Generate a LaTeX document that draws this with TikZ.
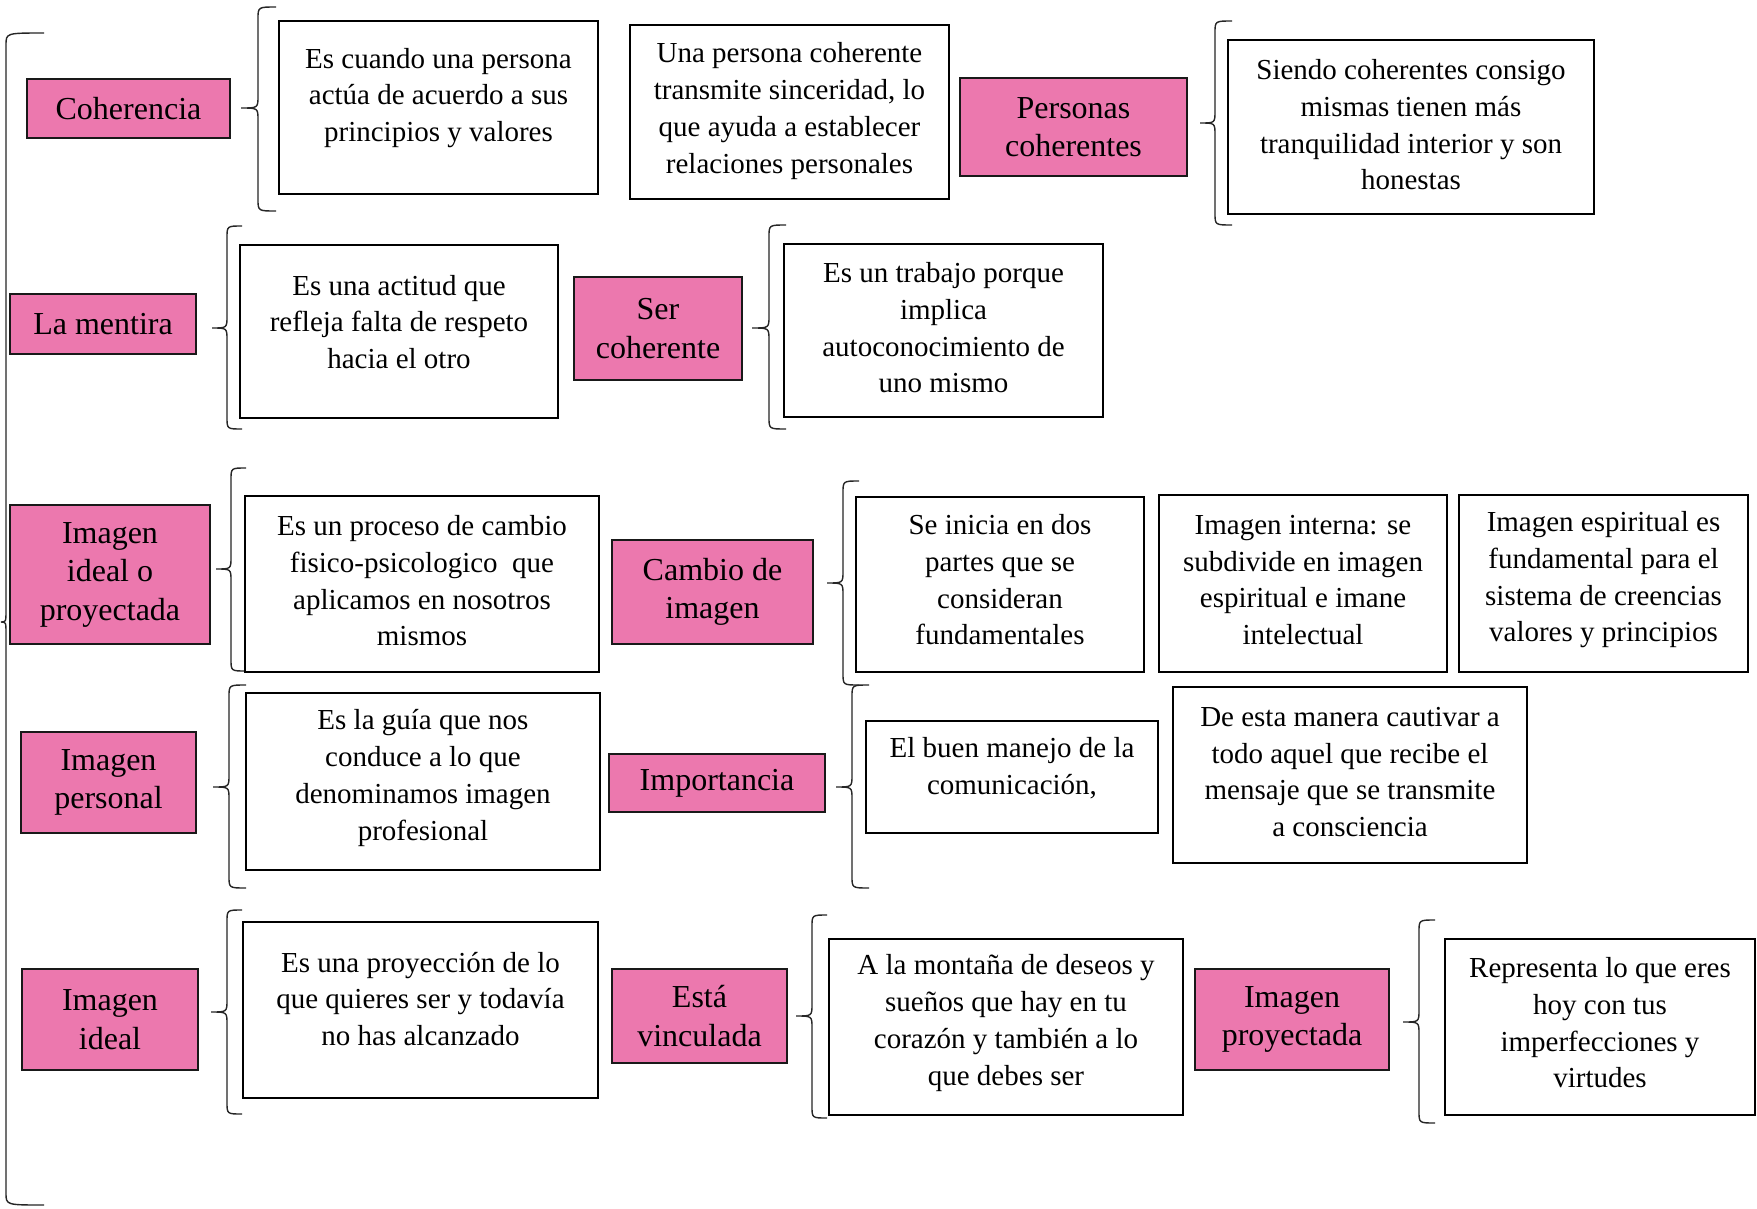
\documentclass[tikz,border=0pt]{standalone}
\usepackage{fontspec}
\setmainfont{Liberation Serif}
\usetikzlibrary{calc}
\definecolor{pinkfill}{RGB}{236,120,174}
\tikzset{
  whitebox/.style={draw=black, line width=2.6pt, fill=white, inner sep=0pt},
  pinkbox/.style={draw=black!90, line width=2.6pt, fill=pinkfill, align=center, inner sep=0pt,
    font=\fontsize{32}{38.5}\selectfont},
  boxtext/.style={align=center, inner sep=0pt, font=\fontsize{29}{36.7}\selectfont},
  bracel/.style={draw=black!85, line width=1.4pt},
}
% white box: name, x1, y1, x2, y2, text offset, text
\newcommand\wbox[7]{%
  \node[whitebox, minimum width={#4-#2}, minimum height={#5-#3}] (#1) at ({(#2+#4)/2},{(#3+#5)/2}) {};
  \node[boxtext] (#1t) at ($(#1.center)+(0,#6)$) {#7};}
% pink box: name, x1, y1, x2, y2, text
\newcommand\pbox[6]{%
  \node[pinkbox, minimum width={#4-#2}, minimum height={#5-#3}] (#1) at ({(#2+#4)/2},{(#3+#5)/2}) {#6};}
% brace: tip x, line x, hook x, top y, mid y, bottom y
\newcommand\brc[6]{%
  \draw[bracel] (#3,#4) .. controls (#2,#4) .. (#2,#4+12) -- (#2,#5-12)
    .. controls (#2,#5) .. (#1,#5) .. controls (#2,#5) .. (#2,#5+12)
    -- (#2,#6-12) .. controls (#2,#6) .. (#3,#6);}
\begin{document}
\begin{tikzpicture}[x=1pt,y=-1pt]
\useasboundingbox[fill=white] (0,0) rectangle (1757,1208);

% main brace
\brc{0.8}{6}{44}{33}{622}{1205}

% row 1
\pbox{p1}{27}{79}{230}{138}{Coherencia}
\brc{241}{258}{276}{7}{108}{211}
\wbox{b11}{279}{21}{598}{194}{-9.5}{Es cuando una persona\\actúa de acuerdo a sus\\principios y valores}
\wbox{b12}{630}{25}{949}{199}{-1}{Una persona coherente\\transmite sinceridad, lo\\que ayuda a establecer\\relaciones personales}
\pbox{p2}{960}{78}{1187}{176}{Personas\\coherentes}
\brc{1200}{1215}{1232}{21}{123}{225}
\wbox{b13}{1228}{40}{1594}{214}{-2}{Siendo coherentes consigo\\mismas tienen más\\tranquilidad interior y son\\honestas}

% row 2
\pbox{p3}{10}{294}{196}{354}{La mentira}
\brc{212}{227}{242}{226}{328}{429}
\wbox{b21}{240}{245}{558}{418}{-9.5}{Es una actitud que\\refleja falta de respeto\\hacia el otro}
\pbox{p4}{574}{277}{742}{380}{Ser\\coherente}
\brc{752}{769}{786}{225}{328}{429}
\wbox{b22}{784}{244}{1103}{417}{-2.5}{Es un trabajo porque\\implica\\autoconocimiento de\\uno mismo}

% row 3
\pbox{p5}{10}{505}{210}{644}{Imagen\\ideal o\\proyectada}
\brc{216}{231}{246}{468}{569}{671}
\wbox{b31}{245}{496}{599}{672}{-3}{Es un proceso de cambio\\fisico-psicologico\ \ que\\aplicamos en nosotros\\mismos}
\pbox{p6}{612}{540}{813}{644}{Cambio de\\imagen}
\brc{827}{843}{859}{481}{583}{685}
\wbox{b32}{856}{497}{1144}{672}{-4.5}{Se inicia en dos\\partes que se\\consideran\\fundamentales}
\wbox{b33}{1159}{495}{1447}{672}{-3.5}{Imagen interna: se\\subdivide en imagen\\espiritual e imane\\intelectual}
\wbox{b34}{1459}{495}{1748}{672}{-3.5}{Imagen espiritual es\\fundamental para el\\sistema de creencias\\valores y principios}

% row 4
\pbox{p7}{21}{732}{196}{833}{Imagen\\personal}
\brc{213}{229}{246}{685}{787}{888}
\wbox{b41}{246}{693}{600}{870}{-3.5}{Es la guía que nos\\conduce a lo que\\denominamos imagen\\profesional}
\pbox{p8}{609}{754}{825}{812}{Importancia}
\brc{836}{852}{869}{685}{787}{888}
\wbox{b42}{866}{721}{1158}{833}{-8.5}{El buen manejo de la\\comunicación,}
\wbox{b43}{1173}{687}{1527}{863}{-3}{De esta manera cautivar a\\todo aquel que recibe el\\mensaje que se transmite\\a consciencia}

% row 5
\pbox{p9}{22}{969}{198}{1070}{Imagen\\ideal}
\brc{211}{227}{242}{910}{1012}{1114}
\wbox{b51}{243}{922}{598}{1098}{-11}{Es una proyección de lo\\que quieres ser y todavía\\no has alcanzado}
\pbox{p10}{612}{969}{787}{1063}{Está\\vinculada}
\brc{796}{812}{827}{915}{1016}{1118}
\wbox{b52}{829}{939}{1183}{1115}{-4}{A la montaña de deseos y\\sueños que hay en tu\\corazón y también a lo\\que debes ser}
\pbox{p11}{1195}{969}{1389}{1070}{Imagen\\proyectada}
\brc{1403}{1419}{1435}{920}{1022}{1123}
\wbox{b53}{1445}{939}{1755}{1115}{-4}{Representa lo que eres\\hoy con tus\\imperfecciones y\\virtudes}
\end{tikzpicture}
\end{document}
